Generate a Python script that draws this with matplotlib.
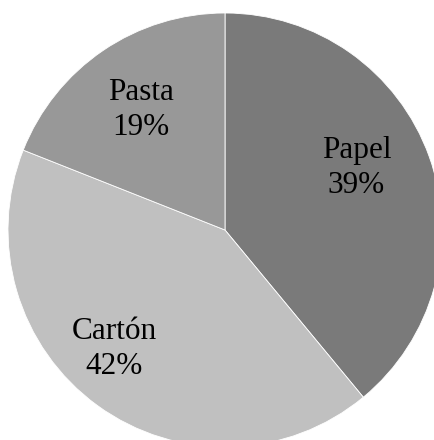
import matplotlib
matplotlib.use("Agg")
import matplotlib.pyplot as plt
import numpy as np

categories = ["Papel", "Cartón", "Pasta"]
shares = [39, 42, 19]
colors = ["#7a7a7a", "#c0c0c0", "#989898"]

plt.rcParams["font.family"] = ["Liberation Serif", "DejaVu Serif"]

W, H = 434, 440
fig = plt.figure(figsize=(W / 100, H / 100), dpi=100)
ax = fig.add_axes([0, 0, 1, 1])

center = (225, 210)
radius = 217
wedges, _ = ax.pie(
    shares,
    colors=colors,
    startangle=90,
    counterclock=False,
    center=center,
    radius=radius,
    wedgeprops=dict(edgecolor="white", linewidth=0.6),
    frame=True,
)
ax.set_xlim(0, W)
ax.set_ylim(0, H)
ax.set_aspect("equal")
ax.axis("off")

# label placement: shift from the wedge's mid-angle (deg) and radial fraction
angle_shift = [5.4, -7.0, 0.8]
label_dist = [0.67, 0.75, 0.675]
for w, c, v, da, d in zip(wedges, categories, shares, angle_shift, label_dist):
    mid = np.deg2rad((w.theta1 + w.theta2) / 2 + da)
    x = center[0] + d * radius * np.cos(mid)
    y = center[1] + d * radius * np.sin(mid)
    ax.text(x, y, f"{c}\n{v}%", ha="center", va="center", fontsize=22.5,
            color="black", linespacing=1.3)

fig.savefig("out.png", dpi=100)
